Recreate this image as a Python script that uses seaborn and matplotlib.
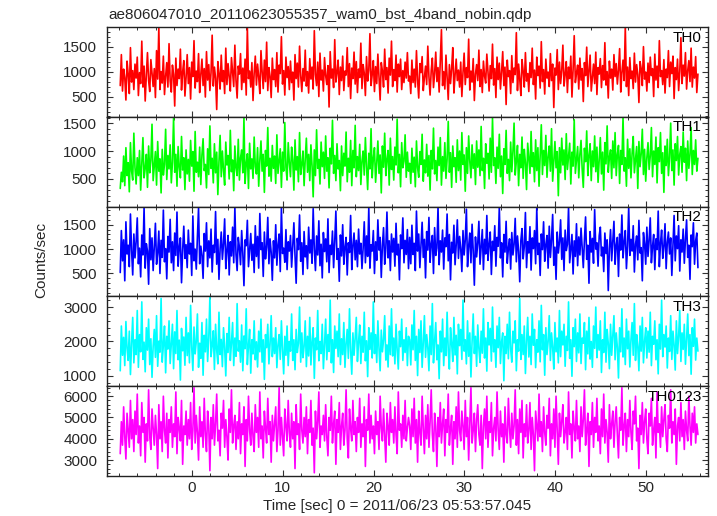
import numpy as np
import pandas as pd
import matplotlib
matplotlib.use("Agg")
import matplotlib.pyplot as plt
from matplotlib.ticker import MultipleLocator
import seaborn as sns

# light curve values (counts/sec), 0.125 s bins
T_START = -7.9
BIN_SEC = 0.125

th0 = [
    720, 1340, 610, 1050, 880, 430, 1210, 950, 560, 1480, 790, 1020, 640, 1150, 870,
    1290, 520, 980, 760, 1610, 690, 1110, 410, 930, 1380, 820, 600, 1240, 970, 700,
    1060, 480, 1420, 850, 1890, 640, 1000, 770, 1310, 540, 910, 1180, 690, 1560, 810,
    590, 1130, 940, 310, 1270, 720, 1050, 860, 1450, 630, 990, 1220, 510, 880, 1340,
    760, 1080, 450, 1190, 900, 1620, 670, 1010, 800, 1360, 580, 940, 1250, 720, 1060,
    490, 1400, 830, 1140, 620, 980, 1730, 710, 1090, 870, 240, 1200, 960, 650, 1330,
    800, 1020, 560, 1470, 740, 1160, 900, 610, 1280, 1000, 700, 1530, 820, 470, 1110,
    950, 1360, 640, 1070, 780, 1250, 530, 1880, 860, 1010, 690, 1180, 420, 970, 1310,
    730, 1150, 890, 560, 1420, 1000, 660, 1230, 800, 1590, 620, 1080, 910, 480, 1270,
    840, 1040, 700, 1380, 590, 1130, 960, 1700, 750, 1020, 530, 1290, 880, 1100, 640,
    1210, 780, 990, 430, 1340, 860, 1170, 690, 1510, 920, 600, 1060, 810, 1430, 710,
    1000, 570, 1260, 850, 1090, 650, 1820, 940, 720, 1190, 500, 1370, 830, 1030, 610,
    1280, 920, 740, 1120, 290, 1400, 870, 1050, 680, 1640, 790, 980, 1230, 540, 1090,
    820, 1310, 620, 1010, 930, 1480, 700, 1160, 460, 1070, 860, 1390, 750, 1200, 580,
    1050, 880, 1570, 660, 1140, 970, 520, 1300, 810, 1020, 1760, 720, 940, 1220, 600,
    1100, 760, 1350, 890, 430, 1180, 1010, 690, 1450, 840, 1080, 570, 1270, 930, 1610,
    700, 1040, 820, 1330, 590, 1150, 900, 1250, 640, 1020, 780, 1190, 870, 1380, 810,
    910, 560, 1230, 780, 1050, 690, 1420, 830, 470, 1160, 980, 1300, 620, 880, 1110,
    740, 1510, 900, 530, 1020, 1270, 680, 960, 1390, 800, 1080, 590, 1200, 1840, 720,
    1000, 650, 1330, 870, 440, 1140, 760, 1060, 1480, 570, 930, 1250, 820, 1030, 690,
    1190, 500, 980, 1370, 740, 1080, 880, 1650, 630, 1010, 790, 1260, 420, 950, 1140,
    820, 1430, 700, 1040, 580, 1210, 910, 770, 1350, 1000, 610, 1120, 860, 1550, 730,
    1060, 480, 1290, 840, 1170, 650, 990, 1400, 720, 1090, 340, 1230, 900, 1020, 560,
    1320, 780, 1070, 940, 1780, 620, 1150, 850, 520, 1240, 1010, 690, 1380, 810, 960,
    600, 1180, 880, 1470, 740, 1030, 450, 1290, 920, 1110, 670, 1600, 800, 1040, 550,
    1250, 870, 990, 700, 1360, 820, 1150, 280, 1070, 930, 1440, 640, 1190, 760, 1020,
    1530, 710, 940, 1200, 580, 1090, 860, 1310, 490, 1040, 1720, 780, 970, 1130, 650,
    1270, 830, 1060, 400, 1180, 920, 1490, 700, 1010, 1330, 610, 890, 1150, 760, 1390,
    540, 1080, 950, 1260, 680, 1120, 830, 1580, 730, 1000, 470, 1210, 870, 1050, 630,
    1340, 900, 1160, 750, 1030, 1460, 590, 980, 1230, 820, 1900, 700, 1090, 520, 1280,
    860, 1010, 660, 1370, 790, 1140, 940, 380, 1200, 1060, 720, 1500, 850, 990, 610,
    1170, 780, 1290, 920, 1060, 500, 1350, 830, 1110, 680, 1620, 900, 1020, 740, 1240,
    570, 1050, 880, 1420, 700, 1190, 960, 1310, 460, 1080, 840, 1250, 620, 1000, 1680,
    760, 1130, 910, 1380, 650, 1020, 1220, 800, 1470, 690, 1090, 870, 1300, 580, 950,
]

th1 = [
    330, 620, 450, 910, 380, 1060, 560, 790, 270, 1150, 640, 480, 1320, 700, 410,
    880, 560, 1010, 300, 760, 1240, 520, 690, 940, 350, 1090, 610, 830, 1480, 470,
    720, 990, 390, 1170, 640, 860, 250, 1030, 570, 760, 1390, 490, 920, 680, 1110,
    430, 800, 1590, 620, 940, 370, 1080, 710, 520, 1260, 660, 880, 310, 1020, 590,
    850, 460, 1190, 730, 990, 280, 1350, 620, 800, 540, 1070, 400, 930, 1220, 650,
    760, 340, 1040, 580, 1450, 690, 870, 430, 1130, 610, 980, 220, 810, 1280, 540,
    1000, 660, 390, 1160, 750, 920, 500, 1370, 630, 840, 290, 1090, 700, 560, 1210,
    480, 880, 1020, 610, 1600, 420, 770, 950, 330, 1140, 680, 860, 510, 1250, 720,
    590, 1060, 370, 830, 1180, 640, 940, 260, 1010, 730, 1420, 550, 870, 460, 1100,
    690, 910, 420, 1290, 600, 820, 1040, 350, 980, 640, 1510, 710, 480, 1150, 790,
    540, 1070, 830, 300, 1200, 660, 900, 450, 1330, 580, 760, 1000, 380, 860, 1230,
    620, 940, 470, 1110, 740, 180, 1020, 560, 1380, 690, 850, 410, 1160, 720, 980,
    510, 1270, 640, 880, 340, 1050, 770, 1550, 600, 920, 470, 1130, 680, 830, 290,
    1090, 560, 960, 730, 1340, 450, 870, 620, 1190, 380, 1010, 700, 1460, 540, 900,
    650, 1120, 400, 820, 1000, 570, 1240, 730, 310, 960, 680, 1400, 520, 870, 1060,
    440, 790, 1180, 600, 930, 250, 1090, 710, 1320, 560, 850, 1010, 390, 1230, 670,
    900, 480, 1070, 750, 1570, 610, 940, 360, 1150, 700, 820, 1290, 530, 980, 640,
    780, 420, 1050, 620, 890, 360, 1180, 700, 530, 990, 760, 1300, 460, 840, 610,
    1120, 550, 920, 300, 1010, 680, 1410, 590, 830, 470, 1070, 740, 1240, 390, 900,
    640, 1150, 510, 860, 1530, 620, 970, 350, 1090, 720, 880, 440, 1200, 650, 1000,
    480, 1330, 760, 930, 280, 1060, 600, 1270, 810, 520, 1110, 690, 950, 400, 1180,
    710, 1020, 560, 1440, 650, 870, 330, 1130, 780, 960, 500, 1230, 620, 1590, 740,
    880, 420, 1070, 690, 1300, 540, 910, 240, 1040, 760, 1370, 600, 850, 470, 1160,
    630, 990, 1500, 570, 820, 1100, 380, 940, 700, 1250, 510, 1030, 790, 310, 1140,
    860, 600, 1350, 720, 970, 450, 1200, 650, 1060, 370, 910, 1470, 580, 1010, 740,
    1280, 530, 890, 1090, 640, 1400, 460, 830, 1170, 700, 990, 200, 1060, 610, 1230,
    750, 1020, 490, 1310, 670, 900, 1140, 410, 980, 730, 1560, 600, 850, 1080, 520,
    940, 1190, 680, 350, 1050, 810, 1360, 560, 920, 1130, 470, 1000, 720, 1270, 630,
    1070, 440, 860, 1240, 590, 980, 300, 1150, 770, 1450, 620, 890, 1020, 510, 1180,
    700, 1330, 560, 930, 1100, 420, 1010, 760, 1610, 640, 880, 370, 1210, 690, 1040,
    520, 960, 1260, 610, 840, 1080, 330, 1170, 720, 950, 1390, 580, 1030, 460, 880,
    1150, 670, 910, 1420, 540, 1000, 760, 1250, 430, 1060, 810, 1330, 600, 970, 260,
    1090, 740, 1210, 560, 880, 1500, 650, 1020, 390, 1130, 830, 1260, 570, 940, 1080,
    620, 1340, 800, 1050, 470, 1180, 690, 930, 1420, 580, 1010, 760, 1200, 640, 870,
]

th2 = [
    520, 1380, 760, 1190, 350, 1560, 900, 1080, 640, 1720, 980, 470, 1310, 820, 1150,
    1640, 700, 1020, 430, 1290, 880, 1850, 610, 1110, 960, 280, 1420, 780, 1230, 560,
    1060, 1530, 690, 920, 1370, 500, 1180, 830, 1800, 740, 1010, 390, 1260, 940, 1610,
    720, 1150, 560, 1330, 870, 1760, 650, 1040, 1230, 310, 980, 1470, 810, 1090, 620,
    1390, 900, 1120, 460, 1680, 760, 1000, 590, 1250, 1840, 700, 1060, 870, 400, 1320,
    960, 1540, 640, 1170, 820, 1410, 530, 1080, 930, 1770, 690, 1200, 380, 1010, 1350,
    790, 1110, 1620, 600, 970, 1280, 470, 1150, 860, 1450, 720, 1860, 890, 560, 1240,
    1030, 680, 1380, 920, 250, 1190, 1070, 1590, 640, 980, 1320, 770, 1100, 520, 1480,
    850, 1260, 610, 1730, 990, 1130, 440, 1350, 800, 1040, 1650, 700, 1210, 930, 360,
    1170, 820, 1500, 670, 1090, 1310, 540, 1860, 910, 1020, 730, 1400, 580, 1150, 960,
    1280, 630, 1060, 1540, 870, 300, 1220, 990, 1700, 750, 1130, 480, 1360, 840, 1070,
    600, 1450, 920, 1190, 710, 1830, 1000, 560, 1270, 880, 1580, 660, 1100, 410, 1340,
    950, 1210, 740, 1620, 520, 1080, 890, 1370, 620, 1160, 1780, 790, 1010, 340, 1290,
    860, 1500, 690, 1040, 1240, 470, 1130, 930, 1690, 580, 1070, 1330, 780, 1180, 640,
    1410, 900, 1120, 600, 1020, 1560, 720, 1270, 850, 1850, 610, 1090, 960, 1380, 500,
    1150, 770, 1600, 980, 1240, 420, 1080, 1440, 690, 1010, 1760, 820, 1170, 560, 1310,
    940, 1220, 650, 1530, 880, 1100, 370, 1290, 1010, 1640, 720, 1180, 890, 1400, 600,
    1240, 700, 1490, 890, 1120, 560, 1780, 960, 1310, 620, 1070, 1550, 830, 1200, 410,
    1360, 980, 1650, 730, 1100, 1280, 500, 1440, 870, 1020, 1860, 680, 1170, 940, 1390,
    590, 1230, 1050, 1720, 760, 1300, 370, 1140, 920, 1490, 680, 1080, 1600, 810, 1260,
    1010, 540, 1380, 880, 1190, 1820, 640, 1060, 1330, 720, 1510, 960, 260, 1250, 840,
    1120, 1570, 690, 1030, 1400, 580, 1200, 900, 1690, 770, 1090, 1350, 480, 1160, 970,
    1480, 650, 1240, 1060, 1860, 820, 1130, 430, 1300, 940, 1570, 710, 1020, 1210, 590,
    1340, 880, 1100, 1630, 740, 1270, 960, 330, 1180, 1420, 800, 1050, 1750, 620, 1150,
    920, 1460, 570, 1230, 1010, 1380, 700, 1840, 890, 1120, 460, 1310, 990, 1560, 750,
    1090, 1280, 610, 1470, 830, 1200, 1710, 670, 1040, 380, 1350, 920, 1150, 1600, 790,
    1230, 560, 1390, 970, 1100, 1860, 720, 1010, 1300, 490, 1170, 850, 1520, 660, 1250,
    880, 1430, 1030, 620, 1190, 1660, 790, 1080, 300, 1360, 940, 1220, 710, 1810, 1000,
    1130, 650, 1270, 1450, 860, 1040, 540, 1330, 910, 1190, 150, 1020, 1400, 760, 1160,
    1570, 690, 1080, 1240, 440, 1310, 980, 1700, 820, 1150, 1380, 600, 1060, 1860, 870,
    1200, 960, 1480, 530, 1100, 1270, 780, 1590, 920, 1030, 350, 1340, 1110, 690, 1450,
    850, 1180, 1640, 720, 1050, 1300, 580, 1210, 990, 1780, 640, 1120, 1390, 810, 1060,
    1520, 600, 1140, 1350, 900, 1230, 460, 1100, 1690, 760, 1270, 1010, 1480, 550, 1190,
    940, 1410, 710, 1200, 1600, 830, 1080, 380, 1290, 1050, 1540, 690, 1170, 1330, 620,
]

th3 = [
    1150, 2450, 1600, 2120, 1300, 2580, 1800, 1450, 2300, 1040, 1950, 2700, 1380, 2050, 1620,
    2900, 1250, 2200, 1700, 3150, 1480, 1980, 1120, 2400, 1750, 2650, 1330, 2080, 960, 1860,
    2350, 1540, 2750, 1280, 2010, 1690, 3250, 1400, 1900, 2450, 1090, 2150, 1780, 2600, 1360,
    1920, 2500, 1210, 2280, 1650, 2900, 1470, 2040, 880, 2380, 1730, 2130, 1310, 2700, 1590,
    2250, 1380, 3050, 1820, 1160, 2420, 1640, 2000, 2800, 1250, 1950, 1510, 2550, 1020, 2180,
    1700, 2650, 1420, 2090, 3300, 1560, 1880, 2310, 1190, 2500, 1750, 1350, 2850, 1620, 2060,
    1270, 2400, 1830, 1000, 2230, 1680, 2700, 1450, 1960, 2550, 1300, 2100, 1570, 3100, 1720,
    2020, 1400, 2480, 1150, 2160, 1790, 2950, 1330, 1870, 2350, 1080, 2050, 1640, 2600, 1470,
    1990, 1260, 2300, 1700, 2650, 1400, 2050, 900, 2200, 1820, 2500, 1350, 1930, 2750, 1560,
    2100, 1650, 2400, 1240, 1900, 2200, 1480, 2600, 1750, 1060, 2150, 1600, 2450, 1300, 2000,
    1720, 2800, 1450, 2050, 1180, 2350, 1680, 1950, 3000, 1400, 2250, 1530, 1860, 2600, 1270,
    2150, 1580, 2700, 1320, 1980, 2400, 930, 2100, 1760, 2900, 1440, 2000, 1650, 2500, 1210,
    1890, 2650, 1470, 2200, 1710, 3200, 1380, 2050, 1100, 2450, 1800, 2300, 1560, 2800, 1330,
    2080, 1620, 2550, 1250, 1940, 2350, 1510, 2950, 1730, 1050, 2250, 1600, 2100, 2700, 1420,
    1980, 2480, 1360, 2150, 1690, 2850, 1440, 2020, 980, 2400, 1770, 2250, 1520, 3150, 1650,
    2200, 1390, 2600, 1800, 1150, 2330, 1700, 2050, 2750, 1460, 1900, 1260, 2450, 1620, 2950,
    1580, 2100, 1350, 2500, 1750, 1200, 2300, 1850, 2650, 1450, 2050, 1680, 2400, 1300, 2150,
    2050, 1320, 2480, 1760, 2900, 1450, 2150, 1010, 2350, 1680, 2600, 1250, 1950, 2750, 1540,
    2200, 1830, 1150, 2450, 1620, 3100, 1380, 2000, 2550, 1470, 1900, 920, 2300, 1700, 2650,
    1300, 2100, 1590, 2850, 1750, 1200, 2400, 1950, 1420, 2700, 1610, 2180, 1060, 2500, 1880,
    2350, 1480, 3200, 1720, 2050, 1350, 2600, 1570, 2250, 970, 2000, 2800, 1650, 2150, 1280,
    2480, 1800, 1390, 2300, 1660, 2950, 1520, 2100, 1140, 2550, 1900, 2380, 1430, 3000, 1700,
    2050, 1250, 2450, 1820, 2700, 1360, 1990, 2250, 860, 2150, 1650, 2500, 1500, 2850, 1780,
    1400, 2300, 1960, 2600, 1150, 2050, 1720, 3250, 1480, 2200, 1620, 2450, 1070, 2000, 2700,
    1550, 2150, 1330, 2800, 1890, 2350, 1240, 2050, 1690, 2600, 1410, 3050, 1760, 2200, 1020,
    2400, 1620, 2000, 2750, 1450, 2250, 1830, 1200, 2550, 1700, 2100, 1380, 2900, 1560, 2300,
    1900, 2500, 1280, 2150, 1740, 3150, 1510, 2050, 990, 2400, 1850, 2650, 1420, 2250, 1670,
    2800, 1360, 2100, 1950, 2550, 1180, 2300, 1640, 2700, 1490, 2000, 1250, 2450, 1800, 3000,
    1530, 2200, 1750, 2600, 1100, 2050, 1680, 2850, 1400, 2350, 1940, 1210, 2500, 1600, 2150,
    2750, 1470, 2250, 1830, 940, 2400, 1700, 2950, 1550, 2100, 1330, 2650, 1790, 2300, 1260,
    2050, 2550, 1600, 3100, 1450, 2200, 1860, 1150, 2450, 1720, 2700, 1380, 2000, 2400, 1520,
    2300, 1690, 2850, 1300, 2150, 1920, 2600, 1470, 2050, 1060, 2500, 1780, 3200, 1560, 2200,
    1840, 2450, 1230, 2100, 1710, 2750, 1480, 2300, 1900, 1170, 2600, 1650, 2150, 2900, 1420,
    2250, 1770, 2500, 1340, 2050, 2800, 1590, 2200, 1050, 2400, 1860, 2650, 1460, 2100, 1720,
]

th0123 = [
    3300, 4800, 3700, 5500, 4100, 3050, 5200, 4400, 3600, 5800, 4000, 4900, 3400, 5300, 4200,
    6100, 3800, 4600, 3200, 5700, 4300, 5000, 2900, 4700, 3900, 6300, 4100, 3500, 5400, 4500,
    3700, 5100, 4200, 2600, 5600, 4000, 4800, 3400, 6000, 4400, 3800, 5200, 3100, 4900, 4300,
    5500, 3600, 4700, 4100, 6200, 3300, 5000, 4500, 3900, 5800, 2800, 4600, 4200, 5300, 3700,
    4900, 4000, 5700, 3500, 4400, 6400, 3800, 5100, 4300, 3000, 5500, 4100, 4800, 3600, 5900,
    4200, 3400, 5300, 4600, 2500, 5000, 4000, 5600, 3700, 4700, 6100, 3900, 4400, 3200, 5200,
    4500, 5800, 3600, 4900, 4100, 3000, 5400, 4300, 6300, 3800, 4600, 5100, 3500, 4800, 4000,
    5700, 3300, 4700, 4200, 5500, 2700, 4900, 3900, 6000, 4400, 3700, 5200, 4100, 3400, 5600,
    4300, 5000, 3600, 6200, 4000, 4600, 3100, 5300, 4500, 3800, 5900, 4200, 4800, 2900, 5100,
    3900, 4700, 5500, 3400, 4400, 6400, 3700, 5000, 4100, 3200, 5400, 4600, 3900, 5800, 4300,
    3600, 5200, 4000, 4800, 2600, 5600, 4200, 4700, 3500, 6100, 4400, 3800, 5000, 4100, 5500,
    3300, 4900, 4300, 5800, 3700, 4500, 2400, 5300, 4000, 4800, 6200, 3600, 4600, 4200, 5100,
    3900, 5600, 4100, 3200, 5000, 4400, 6000, 3800, 4700, 5300, 2800, 4900, 4300, 5700, 3500,
    4600, 5200, 3700, 4400, 6300, 4000, 3100, 5400, 4500, 3900, 5800, 4200, 4800, 3400, 5000,
    4300, 5900, 3600, 4700, 4100, 5500, 2700, 4900, 4400, 6100, 3800, 5100, 4000, 4600, 3300,
    5300, 4200, 4800, 3500, 6000, 4500, 3900, 5400, 4100, 2900, 5200, 4600, 3700, 5700, 4300,
    4900, 3800, 5500, 4200, 3300, 6200, 4400, 4700, 3600, 5100, 4000, 5800, 3900, 4500, 5000,
    4600, 3500, 5400, 4100, 5900, 3800, 4900, 2900, 5300, 4300, 3700, 6000, 4500, 3300, 5100,
    4000, 5600, 3600, 4800, 6300, 4200, 3400, 5200, 4600, 2700, 5000, 4100, 5700, 3800, 4700,
    5400, 3200, 4900, 4300, 6100, 3700, 4500, 5100, 2800, 4800, 4000, 5500, 3600, 6200, 4400,
    3900, 5300, 4600, 3500, 5800, 4100, 5000, 3000, 4700, 6400, 3800, 4400, 5200, 3400, 4900,
    5600, 4200, 3700, 5100, 2600, 4600, 5400, 4000, 6000, 3600, 4800, 4300, 5700, 3200, 4500,
    5000, 3900, 6200, 4400, 3500, 5300, 4100, 4700, 2900, 5500, 4200, 3800, 5900, 4500, 3600,
    5200, 4000, 4600, 6300, 3700, 4900, 3300, 5400, 4300, 5800, 3100, 4700, 4100, 5600, 3800,
    4400, 5700, 3500, 5000, 4200, 2500, 5300, 4600, 3900, 6100, 4100, 4800, 3400, 5500, 4300,
    3700, 5100, 4500, 5900, 3200, 4700, 4000, 5400, 3600, 6000, 4400, 2800, 5200, 4100, 4800,
    5600, 3800, 4300, 5000, 3500, 6200, 4200, 4700, 3100, 5300, 4500, 3900, 5800, 4000, 4600,
    3400, 5500, 4100, 4900, 6300, 3700, 4400, 5200, 2700, 4800, 4200, 5700, 3600, 5000, 4300,
    5900, 3900, 4600, 3300, 5400, 4100, 6100, 3800, 4900, 4300, 2900, 5600, 4000, 4700, 5300,
    3600, 4800, 5500, 4200, 3100, 5000, 4400, 6400, 3700, 4600, 5200, 3400, 4900, 4100, 5800,
    4300, 3500, 5300, 4700, 6000, 3900, 4500, 2600, 5100, 4200, 5700, 3800, 4800, 5400, 4000,
    3300, 5200, 4600, 5900, 3700, 4400, 5000, 3100, 6200, 4300, 4700, 3600, 5500, 4100, 4900,
    5600, 4000, 3400, 5100, 4500, 6300, 3800, 4800, 4200, 5400, 2800, 4600, 5000, 3900, 5700,
    4100, 4900, 3500, 5300, 4400, 3900, 6000, 4600, 3700, 5200, 4300, 5500, 3800, 4700, 4200,
]

band_names = ["TH0", "TH1", "TH2", "TH3", "TH0123"]
band_values = [th0, th1, th2, th3, th0123]
band_colors = ["#ff0000", "#00ff00", "#0000ff", "#00ffff", "#ff00ff"]

# axis settings per panel: (ylim, major step, minor step)
y_limits = [(94, 1894), (5, 1613), (30, 1872), (701, 3310), (2250, 6470)]
y_major = [500, 500, 500, 1000, 1000]
y_minor = [100, 100, 100, 200, 200]

TITLE = "ae806047010_20110623055357_wam0_bst_4band_nobin.qdp"
X_LABEL = "Time [sec] 0 = 2011/06/23 05:53:57.045"
Y_LABEL = "Counts/sec"
FS = 11

sns.set_theme(style="ticks")
plt.rcParams["font.family"] = ["Liberation Sans", "DejaVu Sans"]
plt.rcParams["font.size"] = FS

fig, axes = plt.subplots(5, 1, sharex=True, figsize=(7.17, 5.16), dpi=100)
fig.subplots_adjust(left=0.1492, right=0.9874, top=0.9477, bottom=0.0775, hspace=0)

for i, ax in enumerate(axes):
    vals = band_values[i]
    df = pd.DataFrame({"time": T_START + BIN_SEC * np.arange(len(vals)), "rate": vals})
    sns.lineplot(data=df, x="time", y="rate", ax=ax, color=band_colors[i],
                 linewidth=1.2, estimator=None)
    ax.set_xlim(-9.36, 56.83)
    ax.set_ylim(*y_limits[i])
    ax.yaxis.set_major_locator(MultipleLocator(y_major[i]))
    ax.yaxis.set_minor_locator(MultipleLocator(y_minor[i]))
    ax.xaxis.set_major_locator(MultipleLocator(10))
    ax.xaxis.set_minor_locator(MultipleLocator(2))
    ax.tick_params(which="both", direction="in", top=True, right=True,
                   color="#333333", labelsize=FS)
    ax.tick_params(which="major", length=4.5, width=0.8)
    ax.tick_params(which="minor", length=2.5, width=0.7)
    ax.tick_params(axis="y", pad=7)
    ax.tick_params(axis="x", pad=3.5)
    ax.set_xlabel("")
    ax.set_ylabel("")
    for sp in ax.spines.values():
        sp.set_color("#222222")
        sp.set_linewidth(1.0)
    ax.text(0.99, 0.96, band_names[i], transform=ax.transAxes, ha="right",
            va="top", fontsize=FS, color="black", zorder=5)

fig.text(0.1506, 0.9626, TITLE, ha="left", va="baseline", fontsize=FS)
fig.text(0.554, 0.0116, X_LABEL, ha="center", va="baseline", fontsize=FS)
fig.text(0.057, 0.496, Y_LABEL, ha="center", va="center", rotation=90, fontsize=FS)

fig.savefig("out.png", dpi=100)
